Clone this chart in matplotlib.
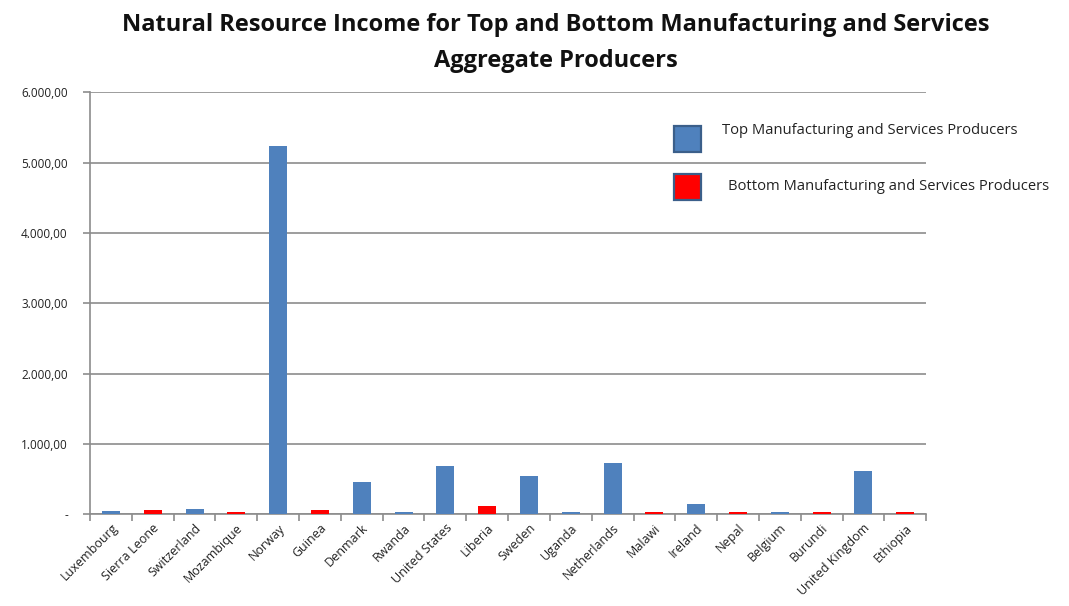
import numpy as np
import matplotlib.pyplot as plt
from matplotlib.patches import Rectangle
from matplotlib.ticker import FuncFormatter

countries = [
    "Luxembourg", "Sierra Leone", "Switzerland", "Mozambique", "Norway",
    "Guinea", "Denmark", "Rwanda", "United States", "Liberia",
    "Sweden", "Uganda", "Netherlands", "Malawi", "Ireland",
    "Nepal", "Belgium", "Burundi", "United Kingdom", "Ethiopia",
]
income = [
    51, 57, 71, 30, 5240,
    57, 460, 30, 685, 118,
    548, 30, 728, 30, 142,
    30, 30, 30, 615, 30,
]
group = [
    "top", "bottom", "top", "bottom", "top",
    "bottom", "top", "top", "top", "bottom",
    "top", "top", "top", "bottom", "top",
    "bottom", "top", "bottom", "top", "bottom",
]
y_ticks = [0, 1000, 2000, 3000, 4000, 5000, 6000]
legend_labels = {
    "top": "Top Manufacturing and Services Producers",
    "bottom": "Bottom Manufacturing and Services Producers",
}

BLUE = "#4f81bd"
RED = "#ff0000"
colors = {"top": BLUE, "bottom": RED}

plt.rcParams["font.family"] = ["Open Sans", "DejaVu Sans"]

fig = plt.figure(figsize=(10.69, 6.06), dpi=100)
ax = fig.add_axes([0.0842, 0.151, 0.7822, 0.697])

x = np.arange(len(countries))
ax.bar(x, income, width=0.43, color=[colors[g] for g in group],
       edgecolor="none", zorder=3)

ax.set_xlim(-0.5, len(countries) - 0.5)
ax.set_ylim(0, 6000)
ax.set_yticks(y_ticks)


def euro_fmt(v, pos):
    if v == 0:
        return "-"
    s = f"{v:,.2f}"
    return s.replace(",", "X").replace(".", ",").replace("X", ".")


ax.yaxis.set_major_formatter(FuncFormatter(euro_fmt))
ax.grid(axis="y", color="#8c8c8c", linewidth=1.2, zorder=0)
ax.set_axisbelow(True)

# category ticks sit on the boundaries, labels in the middle
ax.set_xticks(np.arange(-0.5, len(countries)), minor=False)
ax.set_xticklabels([])
ax.set_xticks(x, minor=True)
ax.set_xticklabels(countries, minor=True, rotation=45, ha="right",
                   rotation_mode="anchor", fontsize=9, color="#222222")
ax.tick_params(axis="x", which="minor", length=0, pad=5)
ax.tick_params(axis="x", which="major", length=5, width=1.2, color="#8c8c8c",
               direction="out")
ax.tick_params(axis="y", length=5, width=1.2, color="#8c8c8c",
               direction="out", labelsize=8.5, labelcolor="#222222", pad=11)

for side in ["top", "right"]:
    ax.spines[side].set_visible(False)
for side in ["left", "bottom"]:
    ax.spines[side].set_color("#8c8c8c")
    ax.spines[side].set_linewidth(1.2)

fig.suptitle("Natural Resource Income for Top and Bottom Manufacturing and Services\nAggregate Producers",
             x=0.52, y=0.978, fontsize=17, fontweight="bold", color="#111111",
             linespacing=1.65)

# hand-placed legend boxes (figure pixel coordinates)
W, H = 1069.0, 606.0
for (gx, gy, label_x, label_y, key) in [(674, 126, 722, 130, "top"),
                                         (674, 174, 728, 186, "bottom")]:
    fig.patches.append(Rectangle((gx / W, 1 - (gy + 26) / H), 27 / W, 26 / H,
                                 transform=fig.transFigure,
                                 facecolor=colors[key], edgecolor="#3b5f8a",
                                 linewidth=1.6, zorder=5))
    fig.text(label_x / W, 1 - label_y / H, legend_labels[key],
             fontsize=10.6, va="center", ha="left", color="#222222")

fig.savefig("out.png", dpi=100, facecolor="white")
